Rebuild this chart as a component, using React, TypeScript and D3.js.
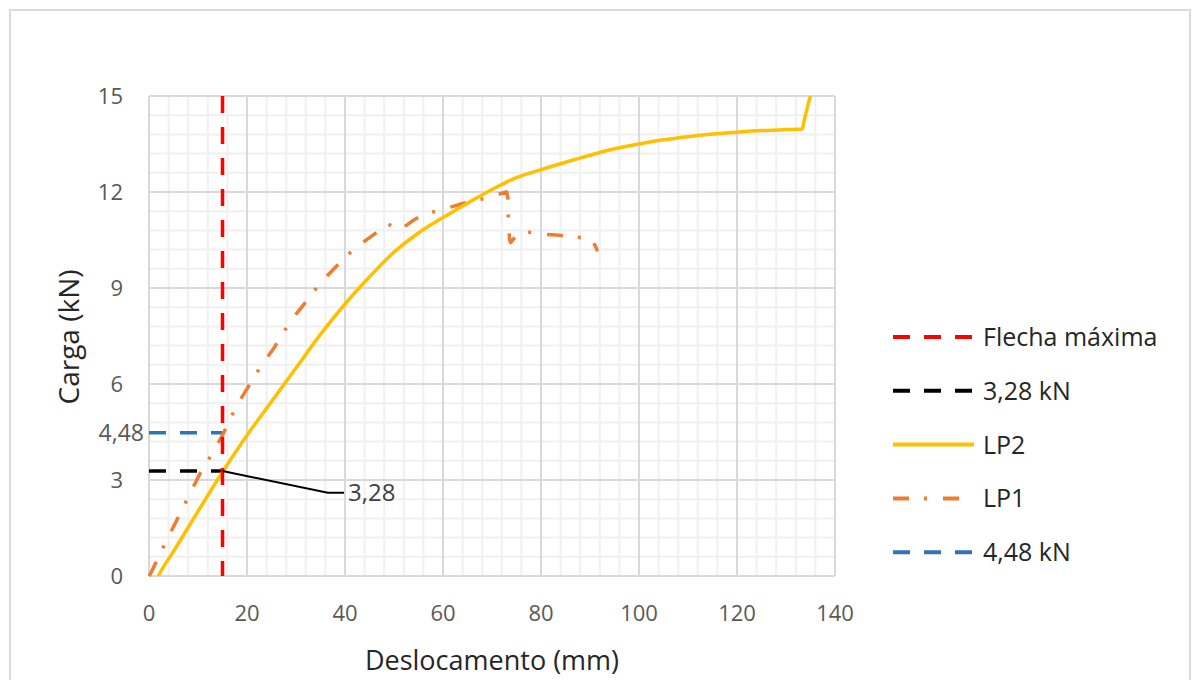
import React from "react";
import * as d3 from "d3";

const xTicks = [0, 20, 40, 60, 80, 100, 120, 140];
const yTicks = [0, 3, 6, 9, 12, 15];

const lp2X = [1.9, 2.4, 5, 10, 15, 20, 25, 30, 35, 40, 45, 50, 55, 60, 65, 70, 75, 80, 85, 90, 95, 100, 105, 110, 115, 120, 125, 130, 133.3, 133.8, 134.3, 134.7, 135];
const lp2Y = [0.0, 0.14, 0.77, 2.02, 3.25, 4.4, 5.45, 6.5, 7.55, 8.5, 9.35, 10.12, 10.72, 11.2, 11.65, 12.08, 12.45, 12.7, 12.93, 13.15, 13.35, 13.5, 13.63, 13.73, 13.81, 13.87, 13.92, 13.95, 13.97, 14.3, 14.6, 14.85, 15];

const lp1X = [0, 0.5, 2.9, 6.6, 10.4, 12.8, 15, 16.5, 18.6, 21, 23, 25.4, 27.8, 30.1, 32.7, 34.9, 38.2, 40.3, 42, 44.8, 47.1, 48.8, 51.2, 54.3, 56.7, 59.7, 63.1, 65.5, 68.6, 72, 73, 73.4, 73.3, 73.6, 73.8, 75, 77, 80.5, 83, 86.4, 90.3, 91.3, 91.5];
const lp1Y = [0, 0.13, 0.9, 2.03, 3.2, 3.8, 4.4, 4.9, 5.5, 6.1, 6.6, 7.1, 7.7, 8.2, 8.7, 9.15, 9.67, 10.0, 10.24, 10.55, 10.81, 11.0, 10.81, 11.15, 11.33, 11.44, 11.6, 11.7, 11.8, 11.96, 12.0, 11.7, 11.1, 10.5, 10.42, 10.65, 10.76, 10.68, 10.66, 10.6, 10.55, 10.24, 10.15];

const flechaX = 15;
const load328 = 3.28;
const load448 = 4.48;
const label328 = "3,28";
const label448 = "4,48";

const legendItems = [
  { label: "Flecha máxima", color: "#FF0000", dash: "17 14" },
  { label: "3,28 kN", color: "#000000", dash: "17 14" },
  { label: "LP2", color: "#FFC000", dash: "" },
  { label: "LP1", color: "#ED7D31", dash: "16 15 3 16" },
  { label: "4,48 kN", color: "#2E75B6", dash: "17 14" },
];

const FONT = "'Open Sans', sans-serif";

export default function App() {
  const x = d3.scaleLinear().domain([0, 140]).range([149, 835]);
  const y = d3.scaleLinear().domain([0, 15]).range([576, 96]);

  const minorX = d3.range(0, 140.001, 4);
  const minorY = d3.range(0, 15.001, 0.6);

  const line = d3.line<[number, number]>().x((d) => x(d[0])).y((d) => y(d[1]));
  const smooth = d3.line<[number, number]>().x((d) => x(d[0])).y((d) => y(d[1])).curve(d3.curveMonotoneX);
  const lp2 = lp2X.map((v, i) => [v, lp2Y[i]] as [number, number]);
  const lp1 = lp1X.map((v, i) => [v, lp1Y[i]] as [number, number]);

  return (
    <svg width={1200} height={680} style={{ position: "absolute", left: 0, top: 0, background: "#fff" }}>
      <rect x={0} y={0} width={1200} height={680} fill="#fff" />
      <rect x={10} y={10} width={1180} height={700} fill="#fff" stroke="#d9d9d9" strokeWidth={2} />
      {minorX.map((v) => (
        <line key={"mx" + v} x1={x(v)} x2={x(v)} y1={y(0)} y2={y(15)} stroke="#f0f0f0" strokeWidth={2} />
      ))}
      {minorY.map((v) => (
        <line key={"my" + v} x1={x(0)} x2={x(140)} y1={y(v)} y2={y(v)} stroke="#f0f0f0" strokeWidth={2} />
      ))}
      {xTicks.map((v) => (
        <line key={"gx" + v} x1={x(v)} x2={x(v)} y1={y(0)} y2={y(15)} stroke="#d9d9d9" strokeWidth={2} />
      ))}
      {yTicks.map((v) => (
        <line key={"gy" + v} x1={x(0)} x2={x(140)} y1={y(v)} y2={y(v)} stroke="#d9d9d9" strokeWidth={2} />
      ))}
      {xTicks.map((v) => (
        <text key={"tx" + v} x={x(v)} y={621} textAnchor="middle" fontFamily={FONT} fontSize={22} fill="#595959">
          {v}
        </text>
      ))}
      {yTicks.map((v) => (
        <text key={"ty" + v} x={123} y={y(v) + 8} textAnchor="end" fontFamily={FONT} fontSize={22} fill="#595959">
          {v}
        </text>
      ))}
      <text x={144} y={y(load448) + 8} textAnchor="end" fontFamily={FONT} fontSize={23} fill="#595959">
        {label448}
      </text>
      <line x1={x(0)} x2={x(flechaX)} y1={y(load448)} y2={y(load448)} stroke="#2E75B6" strokeWidth={3.5} strokeDasharray="17 14" />
      <line x1={x(0)} x2={x(flechaX)} y1={y(load328)} y2={y(load328)} stroke="#000" strokeWidth={3.5} strokeDasharray="17 14" />
      <path d={line(lp1) || ""} fill="none" stroke="#ED7D31" strokeWidth={3.5} strokeDasharray="16 15 3 16" strokeLinejoin="round" />
      <path d={smooth(lp2) || ""} fill="none" stroke="#FFC000" strokeWidth={3.5} strokeLinejoin="round" />
      <line x1={x(flechaX)} x2={x(flechaX)} y1={y(15)} y2={y(0)} stroke="#FF0000" strokeWidth={3.5} strokeDasharray="17 14" />
      <polyline
        points={`${x(flechaX)},${y(load328)} ${x(36.5)},${y(2.6)} ${x(39.8)},${y(2.6)}`}
        fill="none"
        stroke="#000"
        strokeWidth={2}
      />
      <text x={348} y={y(2.6) + 8} fontFamily={FONT} fontSize={24} fill="#404040">
        {label328}
      </text>
      <text x={492} y={670} textAnchor="middle" fontFamily={FONT} fontSize={27} fill="#262626">
        Deslocamento (mm)
      </text>
      <text transform={`translate(79,337) rotate(-90)`} textAnchor="middle" fontFamily={FONT} fontSize={28} fill="#262626">
        Carga (kN)
      </text>
      {legendItems.map((it, i) => {
        const ly = 337 + i * 53.8;
        return (
          <g key={it.label}>
            <line x1={893} x2={974} y1={ly} y2={ly} stroke={it.color} strokeWidth={4} strokeDasharray={it.dash || undefined} />
            <text x={983} y={ly + 9} fontFamily={FONT} fontSize={25} fill="#262626">
              {it.label}
            </text>
          </g>
        );
      })}
    </svg>
  );
}
